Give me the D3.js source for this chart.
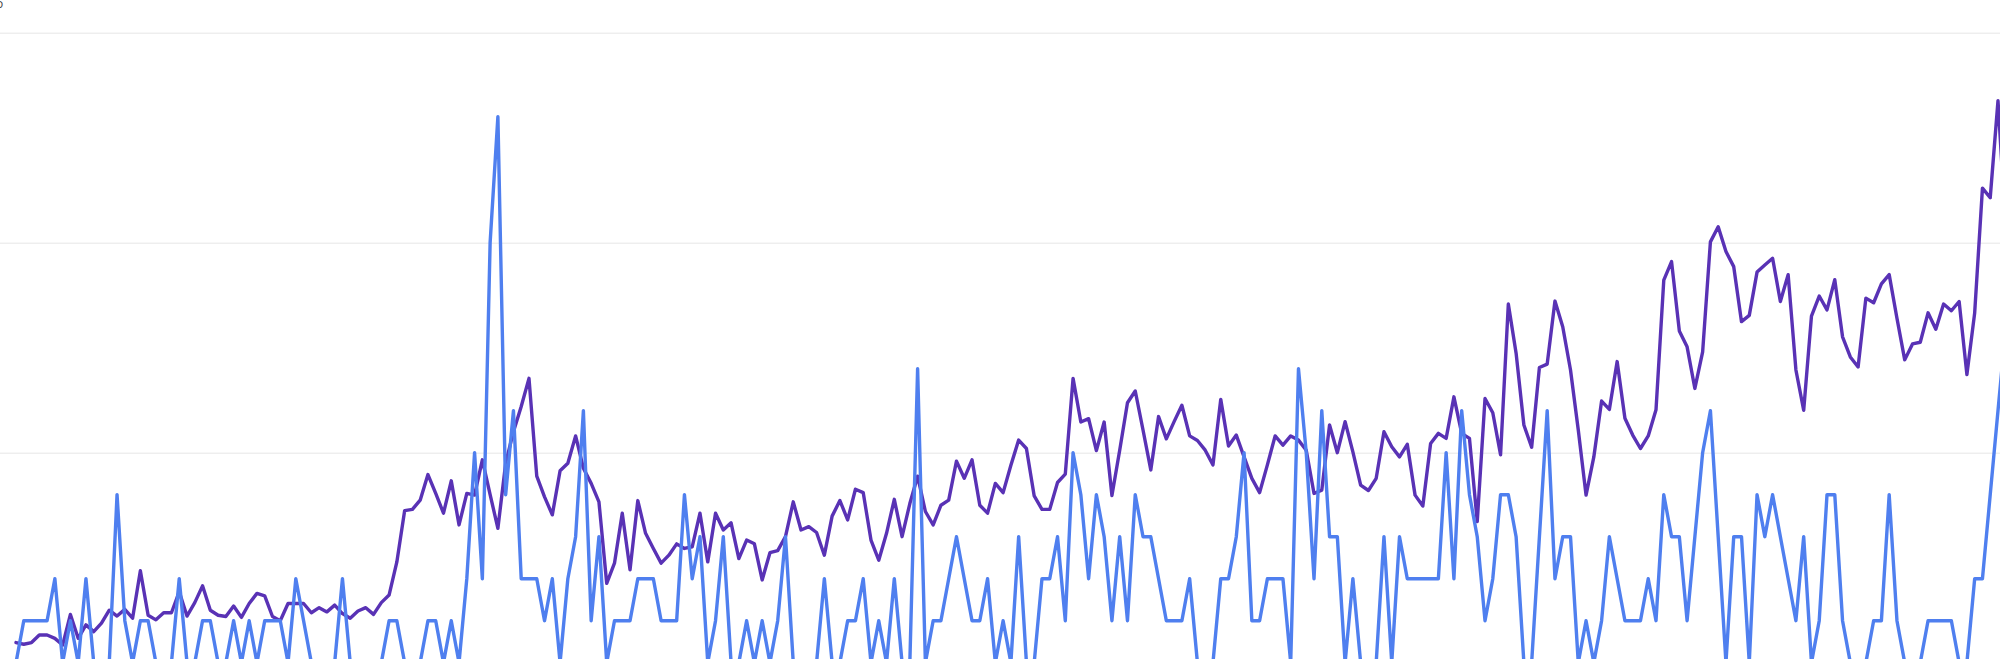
<!DOCTYPE html>
<meta charset="utf-8">
<style>
body { margin: 0; background: #fff; }
/* grid lines only, the axis itself is outside the visible frame */
.grid .domain { display: none; }
.grid line { stroke: #e6e6e6; }
.line { fill: none; stroke-width: 3.4; stroke-linejoin: round; stroke-linecap: round; }
</style>

<svg width="2000" height="659"></svg>

<script src="https://d3js.org/d3.v7.min.js"></script>
<script>

// rolling average (purple)
var avgValues = [
  0.48, 0.44, 0.48, 0.66, 0.66, 0.58, 0.42, 1.15, 0.58, 0.90,
  0.74, 0.94, 1.25, 1.11, 1.27, 1.06, 2.19, 1.13, 1.02, 1.19,
  1.19, 1.69, 1.11, 1.43, 1.83, 1.25, 1.13, 1.10, 1.35, 1.08,
  1.41, 1.65, 1.59, 1.10, 1.00, 1.41, 1.41, 1.41, 1.19, 1.31,
  1.21, 1.37, 1.17, 1.06, 1.23, 1.31, 1.15, 1.43, 1.61, 2.40,
  3.62, 3.65, 3.87, 4.48, 4.03, 3.56, 4.33, 3.28, 4.03, 3.99,
  4.83, 4.00, 3.20, 4.75, 5.50, 6.10, 6.77, 4.44, 3.95, 3.52,
  4.57, 4.75, 5.40, 4.63, 4.27, 3.83, 1.89, 2.37, 3.56, 2.21,
  3.86, 3.08, 2.72, 2.37, 2.56, 2.83, 2.72, 2.76, 3.56, 2.40,
  3.56, 3.16, 3.33, 2.48, 2.92, 2.83, 1.97, 2.62, 2.67, 3.00,
  3.83, 3.16, 3.24, 3.10, 2.56, 3.49, 3.86, 3.40, 4.13, 4.05,
  2.92, 2.44, 3.08, 3.89, 3.00, 3.79, 4.44, 3.60, 3.28, 3.75,
  3.87, 4.80, 4.39, 4.83, 3.75, 3.56, 4.27, 4.05, 4.70, 5.30,
  5.10, 3.97, 3.65, 3.65, 4.29, 4.49, 6.77, 5.73, 5.81, 5.05,
  5.73, 3.98, 5.06, 6.19, 6.47, 5.54, 4.59, 5.86, 5.33, 5.74,
  6.13, 5.40, 5.29, 5.06, 4.71, 6.27, 5.16, 5.42, 4.90, 4.39,
  4.05, 4.71, 5.40, 5.18, 5.40, 5.30, 5.06, 4.03, 4.11, 5.66,
  5.00, 5.74, 5.02, 4.23, 4.10, 4.39, 5.50, 5.14, 4.90, 5.20,
  3.99, 3.73, 5.22, 5.46, 5.34, 6.33, 5.46, 5.34, 3.36, 6.29,
  5.95, 4.95, 8.54, 7.37, 5.66, 5.13, 7.03, 7.11, 8.61, 8.00,
  6.97, 5.54, 3.99, 4.90, 6.23, 6.03, 7.17, 5.82, 5.42, 5.10,
  5.40, 6.02, 9.11, 9.55, 7.90, 7.52, 6.53, 7.40, 10.02, 10.38,
  9.79, 9.43, 8.12, 8.27, 9.30, 9.47, 9.63, 8.60, 9.24, 6.97,
  6.01, 8.25, 8.73, 8.40, 9.12, 7.76, 7.28, 7.04, 8.68, 8.57,
  9.02, 9.24, 8.20, 7.21, 7.59, 7.63, 8.33, 7.94, 8.54, 8.38,
  8.60, 6.86, 8.33, 11.30, 11.07, 13.38, 10.30
];

// daily count (blue)
var countValues = [
  0, 1, 1, 1, 1, 2, 0, 1, 0, 2,
  0, 0, 0, 4, 1, 0, 1, 1, 0, 0,
  0, 2, 0, 0, 1, 1, 0, 0, 1, 0,
  1, 0, 1, 1, 1, 0, 2, 1, 0, 0,
  0, 0, 2, 0, 0, 0, 0, 0, 1, 1,
  0, 0, 0, 1, 1, 0, 1, 0, 2, 5,
  2, 10, 13, 4, 6, 2, 2, 2, 1, 2,
  0, 2, 3, 6, 1, 3, 0, 1, 1, 1,
  2, 2, 2, 1, 1, 1, 4, 2, 3, 0,
  1, 3, 0, 0, 1, 0, 1, 0, 1, 3,
  0, 0, 0, 0, 2, 0, 0, 1, 1, 2,
  0, 1, 0, 2, 0, 0, 7, 0, 1, 1,
  2, 3, 2, 1, 1, 2, 0, 1, 0, 3,
  0, 0, 2, 2, 3, 1, 5, 4, 2, 4,
  3, 1, 3, 1, 4, 3, 3, 2, 1, 1,
  1, 2, 0, 0, 0, 2, 2, 3, 5, 1,
  1, 2, 2, 2, 0, 7, 5, 2, 6, 3,
  3, 0, 2, 0, 0, 0, 3, 0, 3, 2,
  2, 2, 2, 2, 5, 2, 6, 4, 3, 1,
  2, 4, 4, 3, 0, 0, 3, 6, 2, 3,
  3, 0, 1, 0, 1, 3, 2, 1, 1, 1,
  2, 1, 4, 3, 3, 1, 3, 5, 6, 3,
  0, 3, 3, 0, 4, 3, 4, 3, 2, 1,
  3, 0, 1, 4, 4, 1, 0, 0, 0, 1,
  1, 4, 1, 0, 0, 0, 1, 1, 1, 1,
  0, 0, 2, 2, 4, 6, 8
];

var yTicks = [0, 5, 10, 15];

var svg = d3.select("svg"),
    width = +svg.attr("width"),
    height = +svg.attr("height");

// the plot runs a little past the frame on the right and bottom
var x = d3.scaleLinear()
    .domain([0, 255])
    .range([16, 1998]);

var y = d3.scaleLinear()
    .domain([0, 15])
    .range([662.7, 32.7]);

// horizontal grid lines, no labels in view
svg.append("g")
    .attr("class", "grid")
    .call(d3.axisLeft(y).tickValues(yTicks).tickSize(-width).tickFormat(""));

var line = d3.line()
    .x(function(d, i) { return x(i); })
    .y(function(d) { return y(d); });

svg.append("path")
    .datum(avgValues)
    .attr("class", "line")
    .attr("stroke", "#5932b5")
    .attr("d", line);

svg.append("path")
    .datum(countValues)
    .attr("class", "line")
    .attr("stroke", "#4f7fef")
    .attr("d", line);

// cut-off label in the top left corner
svg.append("text")
    .attr("x", -4)
    .attr("y", 8)
    .attr("fill", "#444")
    .attr("font-family", "Open Sans, sans-serif")
    .attr("font-size", 12)
    .text("o");

</script>
